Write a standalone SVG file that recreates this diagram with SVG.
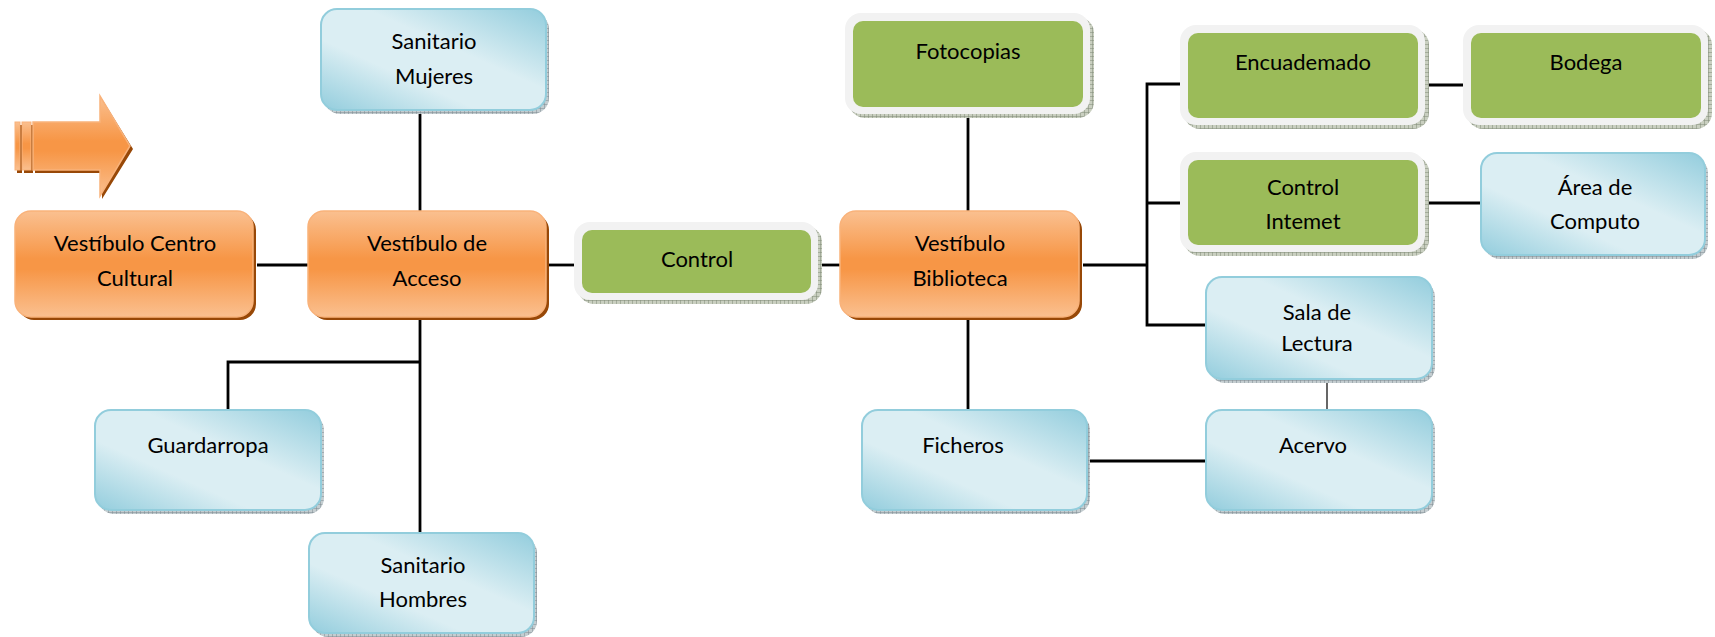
<svg xmlns="http://www.w3.org/2000/svg" width="1715" height="637" viewBox="0 0 1715 637">
<defs>
<linearGradient id="gOr" x1="0" y1="0" x2="0" y2="1">
<stop offset="0" stop-color="#fac090"/>
<stop offset="0.45" stop-color="#f79646"/>
<stop offset="0.55" stop-color="#f79646"/>
<stop offset="1" stop-color="#fac090"/>
</linearGradient>
<linearGradient id="gBl" x1="0" y1="1" x2="1" y2="0">
<stop offset="0" stop-color="#93cddd"/>
<stop offset="0.35" stop-color="#dbeef3"/>
<stop offset="0.6" stop-color="#dbeef3"/>
<stop offset="1" stop-color="#93cddd"/>
</linearGradient>
<pattern id="tex" width="4" height="4" patternUnits="userSpaceOnUse">
<rect width="4" height="4" fill="#c9cfc0"/>
<path d="M0,0H4M0,0V4" stroke="#7f8a76" stroke-width="1"/>
</pattern>
<pattern id="texB" width="4" height="4" patternUnits="userSpaceOnUse">
<rect width="4" height="4" fill="#c4cdd0"/>
<path d="M0,0H4M0,0V4" stroke="#7c8a90" stroke-width="1"/>
</pattern>
</defs>
<style>
.or{fill:url(#gOr);stroke:#f9b27a;stroke-width:1.5}
.orS{fill:#984807}
.bl{fill:url(#gBl);stroke:#92cddc;stroke-width:2}
.blS{fill:url(#texB)}
.gf{fill:#f2f2f2}
.gS{fill:url(#tex)}
.gi{fill:#9bbb59}
.t{font-family:"Lato","Open Sans","Liberation Sans",sans-serif;font-size:22px;fill:#000;text-anchor:middle}
.ln{stroke:#000;stroke-width:2.8;fill:none}
.thin{stroke:#000;stroke-width:1.2;fill:none}
</style>

<g id="connectors">
<path class="ln" d="M420,113V211"/>
<path class="ln" d="M257,265H308"/>
<path class="ln" d="M549,265H574"/>
<path class="ln" d="M818,265H840"/>
<path class="ln" d="M420,320V533"/>
<path class="ln" d="M420,362H228V410"/>
<path class="ln" d="M968,116V211"/>
<path class="ln" d="M1083,265H1147"/>
<path class="ln" d="M1180,84H1147V325H1206"/>
<path class="ln" d="M1147,203H1180"/>
<path class="ln" d="M1428,85H1463"/>
<path class="ln" d="M1428,203H1481"/>
<path class="thin" d="M1327,383V410"/>
<path class="ln" d="M968,320V410"/>
<path class="ln" d="M1090,461H1206"/>
</g>

<g id="arrow">
<path class="orS" d="M35,125H102V99L133,149L102,199V173H35Z"/>
<rect x="17" y="125" width="5" height="48" class="orS"/>
<rect x="24" y="125" width="9" height="48" class="orS"/>
<rect x="15" y="122" width="5" height="48" fill="url(#gOr)" stroke="#f9b27a" stroke-width="1"/>
<rect x="22" y="122" width="9" height="48" fill="url(#gOr)" stroke="#f9b27a" stroke-width="1"/>
<path d="M33,122H100V96L130,146L100,196V170H33Z" fill="url(#gOr)" stroke="#f9b27a" stroke-width="1.5"/>
</g>

<g id="vestibulo-centro-cultural">
<rect x="18" y="214" width="238" height="106" rx="16" class="orS"/>
<rect x="15" y="211" width="238" height="106" rx="16" class="or"/>
<text class="t" x="135" y="251">Vestíbulo Centro</text>
<text class="t" x="135" y="286">Cultural</text>
</g>

<g id="vestibulo-acceso">
<rect x="311" y="214" width="238" height="106" rx="16" class="orS"/>
<rect x="308" y="211" width="238" height="106" rx="16" class="or"/>
<text class="t" x="427" y="251">Vestíbulo de</text>
<text class="t" x="427" y="286">Acceso</text>
</g>

<g id="vestibulo-biblioteca">
<rect x="843" y="214" width="239" height="106" rx="16" class="orS"/>
<rect x="840" y="211" width="239" height="106" rx="16" class="or"/>
<text class="t" x="960" y="251">Vestíbulo</text>
<text class="t" x="960" y="286">Biblioteca</text>
</g>

<g id="sanitario-mujeres">
<rect x="324" y="13" width="225" height="101" rx="16" class="blS"/>
<rect x="321" y="9" width="225" height="101" rx="16" class="bl"/>
<text class="t" x="434" y="49">Sanitario</text>
<text class="t" x="434" y="84">Mujeres</text>
</g>

<g id="guardarropa">
<rect x="98" y="414" width="226" height="100" rx="16" class="blS"/>
<rect x="95" y="410" width="226" height="100" rx="16" class="bl"/>
<text class="t" x="208" y="453">Guardarropa</text>
</g>

<g id="sanitario-hombres">
<rect x="312" y="537" width="225" height="100" rx="16" class="blS"/>
<rect x="309" y="533" width="225" height="100" rx="16" class="bl"/>
<text class="t" x="423" y="573">Sanitario</text>
<text class="t" x="423" y="607">Hombres</text>
</g>

<g id="control">
<rect x="578" y="226" width="244" height="78" rx="16" class="gS"/>
<rect x="574" y="222" width="244" height="78" rx="16" class="gf"/>
<rect x="582" y="230" width="229" height="63" rx="10" class="gi"/>
<text class="t" x="697" y="267">Control</text>
</g>

<g id="fotocopias">
<rect x="849" y="17" width="245" height="101" rx="16" class="gS"/>
<rect x="845" y="13" width="245" height="101" rx="16" class="gf"/>
<rect x="853" y="21" width="230" height="86" rx="10" class="gi"/>
<text class="t" x="968" y="59">Fotocopias</text>
</g>

<g id="encuadernado">
<rect x="1184" y="29" width="245" height="100" rx="16" class="gS"/>
<rect x="1180" y="25" width="245" height="100" rx="16" class="gf"/>
<rect x="1188" y="33" width="230" height="85" rx="10" class="gi"/>
<text class="t" x="1303" y="70">Encuademado</text>
</g>

<g id="bodega">
<rect x="1467" y="29" width="245" height="100" rx="16" class="gS"/>
<rect x="1463" y="25" width="245" height="100" rx="16" class="gf"/>
<rect x="1471" y="33" width="230" height="85" rx="10" class="gi"/>
<text class="t" x="1586" y="70">Bodega</text>
</g>

<g id="control-internet">
<rect x="1184" y="156" width="245" height="100" rx="16" class="gS"/>
<rect x="1180" y="152" width="245" height="100" rx="16" class="gf"/>
<rect x="1188" y="160" width="230" height="85" rx="10" class="gi"/>
<text class="t" x="1303" y="195">Control</text>
<text class="t" x="1303" y="229">Intemet</text>
</g>

<g id="area-computo">
<rect x="1484" y="157" width="224" height="102" rx="16" class="blS"/>
<rect x="1481" y="153" width="224" height="102" rx="16" class="bl"/>
<text class="t" x="1595" y="195">Área de</text>
<text class="t" x="1595" y="229">Computo</text>
</g>

<g id="sala-lectura">
<rect x="1209" y="281" width="226" height="102" rx="16" class="blS"/>
<rect x="1206" y="277" width="226" height="102" rx="16" class="bl"/>
<text class="t" x="1317" y="320">Sala de</text>
<text class="t" x="1317" y="351">Lectura</text>
</g>

<g id="ficheros">
<rect x="865" y="414" width="225" height="100" rx="16" class="blS"/>
<rect x="862" y="410" width="225" height="100" rx="16" class="bl"/>
<text class="t" x="963" y="453">Ficheros</text>
</g>

<g id="acervo">
<rect x="1209" y="414" width="226" height="100" rx="16" class="blS"/>
<rect x="1206" y="410" width="226" height="100" rx="16" class="bl"/>
<text class="t" x="1313" y="453">Acervo</text>
</g>
</svg>
